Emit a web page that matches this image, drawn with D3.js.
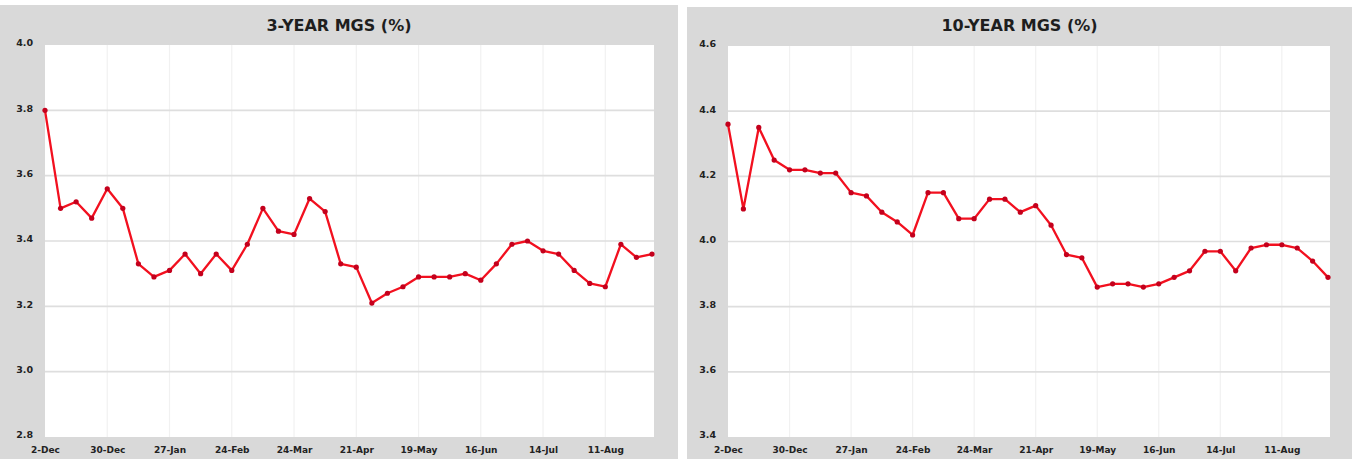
<!DOCTYPE html>
<html>
<head>
<meta charset="utf-8">
<script src="https://cdn.jsdelivr.net/npm/d3@7"></script>
<style>
  html, body { margin: 0; padding: 0; background: #ffffff; }
  svg { display: block; }
  text { font-family: "DejaVu Sans", Verdana, sans-serif; font-weight: bold; }
</style>
</head>
<body>
<svg id="chart" width="1357" height="459"></svg>
<script>
// Weekly observation dates
const weeks = [
  "2-Dec", "9-Dec", "16-Dec", "23-Dec", "30-Dec", "6-Jan", "13-Jan", "20-Jan",
  "27-Jan", "3-Feb", "10-Feb", "17-Feb", "24-Feb", "3-Mar", "10-Mar", "17-Mar",
  "24-Mar", "31-Mar", "7-Apr", "14-Apr", "21-Apr", "28-Apr", "5-May", "12-May",
  "19-May", "26-May", "2-Jun", "9-Jun", "16-Jun", "23-Jun", "30-Jun", "7-Jul",
  "14-Jul", "21-Jul", "28-Jul", "4-Aug", "11-Aug", "18-Aug", "25-Aug", "1-Sep"
];

// Dates shown on the horizontal axis
const xTickLabels = ["2-Dec", "30-Dec", "27-Jan", "24-Feb", "24-Mar",
                     "21-Apr", "19-May", "16-Jun", "14-Jul", "11-Aug"];

// 3-year MGS yield (%)
const mgs3y = [
  3.80, 3.50, 3.52, 3.47, 3.56, 3.50, 3.33, 3.29, 3.31, 3.36,
  3.30, 3.36, 3.31, 3.39, 3.50, 3.43, 3.42, 3.53, 3.49, 3.33,
  3.32, 3.21, 3.24, 3.26, 3.29, 3.29, 3.29, 3.30, 3.28, 3.33,
  3.39, 3.40, 3.37, 3.36, 3.31, 3.27, 3.26, 3.39, 3.35, 3.36
];

// 10-year MGS yield (%)
const mgs10y = [
  4.36, 4.10, 4.35, 4.25, 4.22, 4.22, 4.21, 4.21, 4.15, 4.14,
  4.09, 4.06, 4.02, 4.15, 4.15, 4.07, 4.07, 4.13, 4.13, 4.09,
  4.11, 4.05, 3.96, 3.95, 3.86, 3.87, 3.87, 3.86, 3.87, 3.89,
  3.91, 3.97, 3.97, 3.91, 3.98, 3.99, 3.99, 3.98, 3.94, 3.89
];

// Y-axis tick values for each panel
const yTicks3y = [2.8, 3.0, 3.2, 3.4, 3.6, 3.8, 4.0];
const yTicks10y = [3.4, 3.6, 3.8, 4.0, 4.2, 4.4, 4.6];

const svg = d3.select("#chart");

function drawPanel(cfg) {
  const g = svg.append("g");

  // Panel background
  g.append("rect")
    .attr("x", cfg.panel.x).attr("y", cfg.panel.y)
    .attr("width", cfg.panel.w).attr("height", cfg.panel.h)
    .attr("fill", "#d9d9d9");

  // Plot area
  g.append("rect")
    .attr("x", cfg.plot.left).attr("y", cfg.plot.top)
    .attr("width", cfg.plot.right - cfg.plot.left)
    .attr("height", cfg.plot.bottom - cfg.plot.top)
    .attr("fill", "#ffffff");

  const x = d3.scalePoint()
    .domain(weeks)
    .range([cfg.plot.left, cfg.plot.lastX]);

  const y = d3.scaleLinear()
    .domain(cfg.yDomain)
    .range([cfg.plot.bottom, cfg.plot.top]);

  // Vertical gridlines at labelled dates
  g.append("g")
    .selectAll("line")
    .data(xTickLabels.slice(1))
    .join("line")
    .attr("x1", d => x(d)).attr("x2", d => x(d))
    .attr("y1", cfg.plot.top).attr("y2", cfg.plot.bottom)
    .attr("stroke", "#f1f1f1")
    .attr("stroke-width", 1.2);

  // Horizontal gridlines
  g.append("g")
    .selectAll("line")
    .data(cfg.yTicks.slice(1, -1))
    .join("line")
    .attr("x1", cfg.plot.left).attr("x2", cfg.plot.right)
    .attr("y1", d => y(d)).attr("y2", d => y(d))
    .attr("stroke", "#dedede")
    .attr("stroke-width", 1.6);

  // Y axis labels
  const yAxis = d3.axisLeft(y)
    .tickValues(cfg.yTicks)
    .tickFormat(d3.format(".1f"))
    .tickSize(0)
    .tickPadding(0);
  const ya = g.append("g")
    .attr("transform", `translate(${cfg.plot.left - 12},0)`)
    .call(yAxis);
  ya.select(".domain").remove();
  ya.selectAll("text")
    .attr("font-size", 9.5)
    .attr("fill", "#222222")
    .attr("dy", "0.1em")
    .style("font-family", "'DejaVu Sans', sans-serif")
    .style("font-weight", "bold");

  // X axis labels
  const xAxis = d3.axisBottom(x)
    .tickValues(xTickLabels)
    .tickSize(0)
    .tickPadding(0);
  const xa = g.append("g")
    .attr("transform", `translate(0,${cfg.plot.bottom + 10})`)
    .call(xAxis);
  xa.select(".domain").remove();
  xa.selectAll("text")
    .attr("font-size", 9)
    .attr("fill", "#222222")
    .style("font-family", "'DejaVu Sans', sans-serif")
    .style("font-weight", "bold");

  // Title
  g.append("text")
    .attr("x", cfg.panel.x + cfg.panel.w / 2)
    .attr("y", 31)
    .attr("text-anchor", "middle")
    .attr("font-size", 16)
    .attr("fill", "#1e1e1e")
    .text(cfg.title);

  // Series line
  const line = d3.line()
    .x((d, i) => x(weeks[i]))
    .y(d => y(d));

  g.append("path")
    .datum(cfg.values)
    .attr("d", line)
    .attr("fill", "none")
    .attr("stroke", "#f2101f")
    .attr("stroke-width", 2.3)
    .attr("stroke-linejoin", "round");

  // Markers
  g.append("g")
    .selectAll("circle")
    .data(cfg.values)
    .join("circle")
    .attr("cx", (d, i) => x(weeks[i]))
    .attr("cy", d => y(d))
    .attr("r", 2.6)
    .attr("fill", "#c4001c");
}

drawPanel({
  title: "3-YEAR MGS (%)",
  values: mgs3y,
  yDomain: [2.8, 4.0],
  yTicks: yTicks3y,
  panel: { x: 0, y: 5, w: 678, h: 454 },
  plot: { left: 45, right: 654, lastX: 652, top: 45, bottom: 437 }
});

drawPanel({
  title: "10-YEAR MGS (%)",
  values: mgs10y,
  yDomain: [3.4, 4.6],
  yTicks: yTicks10y,
  panel: { x: 687, y: 7, w: 665, h: 452 },
  plot: { left: 728, right: 1330, lastX: 1328, top: 46, bottom: 437 }
});
</script>
</body>
</html>
